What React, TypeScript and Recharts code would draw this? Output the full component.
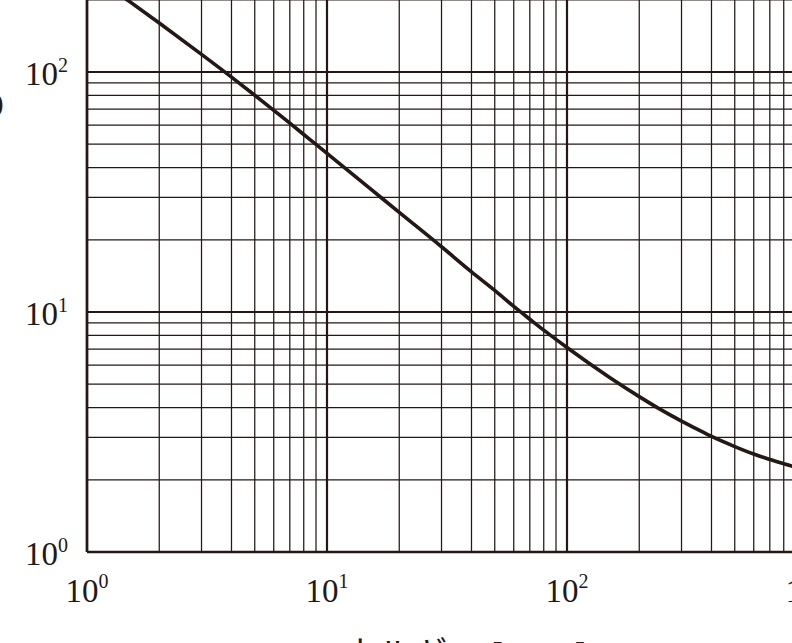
import React from "react";
import { LineChart, Line, XAxis, YAxis, ReferenceLine, Label } from "recharts";

// proton energy [MeV] vs. stopping power
const energy = [1, 1.5, 2, 3, 4, 5, 6, 7, 8, 9, 10, 15, 20, 30, 40, 50, 60, 70, 80, 90, 100, 150, 200, 250, 300, 350, 400, 500, 600, 700, 800, 900, 1000];
const stoppingPower = [262, 197, 160, 118.4, 95.2, 80, 69.2, 61.2, 54.9, 49.9, 45.8, 32.9, 26.0, 18.7, 14.7, 12.3, 10.55, 9.33, 8.4, 7.69, 7.11, 5.35, 4.44, 3.88, 3.51, 3.24, 3.03, 2.75, 2.56, 2.43, 2.33, 2.26, 2.21];

const majorTicks = [1, 10, 100, 1000];
const minorTicks = [2, 3, 4, 5, 6, 7, 8, 9, 20, 30, 40, 50, 60, 70, 80, 90, 200, 300, 400, 500, 600, 700, 800, 900];
const tickExponents = ["0", "1", "2", "3"];

const xTitle = "エネルギー [MeV]";
const yTitle = "(MeV cm²/g)";

const ink = "#231815";
const serif = "'Liberation Serif', 'Noto Sans CJK JP', serif";

const data = energy.map((e, i) => ({ e, s: stoppingPower[i] }));

function expOf(v: number) {
  return tickExponents[majorTicks.indexOf(v)] ?? "";
}

function XTick({ x, y, payload }: any) {
  return (
    <text x={x} y={y + 49.5} textAnchor="middle" fill={ink} fontFamily={serif} fontSize={33}>
      <tspan>10</tspan>
      <tspan dy={-13.5} fontSize={20}>{expOf(payload.value)}</tspan>
    </text>
  );
}

function YTick({ x, y, payload }: any) {
  return (
    <text x={x - 19} y={y + 13} textAnchor="end" fill={ink} fontFamily={serif} fontSize={33}>
      <tspan>10</tspan>
      <tspan dy={-13} fontSize={20}>{expOf(payload.value)}</tspan>
    </text>
  );
}

export default function App() {
  return (
    <div style={{ position: "absolute", left: 0, top: 0, width: 792, height: 643, overflow: "hidden", background: "#fff" }}>
      <div style={{ position: "absolute", left: 0, top: -200 }}>
        <LineChart width={817} height={862} data={data} margin={{ top: 32, right: 10, left: 0, bottom: 10 }}>
          {minorTicks.map((v) => (
            <ReferenceLine key={"vx" + v} x={v} stroke={ink} strokeWidth={1.25} />
          ))}
          {minorTicks.map((v) => (
            <ReferenceLine key={"hy" + v} y={v} stroke={ink} strokeWidth={1.25} />
          ))}
          {majorTicks.map((v) => (
            <ReferenceLine key={"VX" + v} x={v} stroke={ink} strokeWidth={2.2} />
          ))}
          {majorTicks.map((v) => (
            <ReferenceLine key={"HY" + v} y={v} stroke={ink} strokeWidth={2.2} />
          ))}
          <XAxis
            dataKey="e"
            type="number"
            scale="log"
            domain={[1, 1000]}
            ticks={majorTicks}
            tick={<XTick />}
            tickLine={false}
            tickSize={0}
            tickMargin={0}
            axisLine={{ stroke: ink, strokeWidth: 2.6 }}
            height={100}
            interval={0}
            allowDataOverflow
          >
            <Label
              content={() => (
                <text x={447} y={867} textAnchor="middle" fill={ink} fontFamily={serif} fontSize={35}>
                  {xTitle}
                </text>
              )}
            />
          </XAxis>
          <YAxis
            type="number"
            scale="log"
            domain={[1, 1000]}
            ticks={majorTicks}
            tick={<YTick />}
            tickLine={false}
            tickSize={0}
            tickMargin={0}
            axisLine={{ stroke: ink, strokeWidth: 2.6 }}
            width={87}
            interval={0}
            allowDataOverflow
          >
            <Label
              content={() => (
                <text x={3.5} y={312} textAnchor="end" fill={ink} fontFamily={serif} fontSize={28}>
                  {yTitle}
                </text>
              )}
            />
          </YAxis>
          <Line
            type="monotone"
            dataKey="s"
            stroke={ink}
            strokeWidth={3.6}
            dot={false}
            isAnimationActive={false}
          />
        </LineChart>
      </div>
    </div>
  );
}
